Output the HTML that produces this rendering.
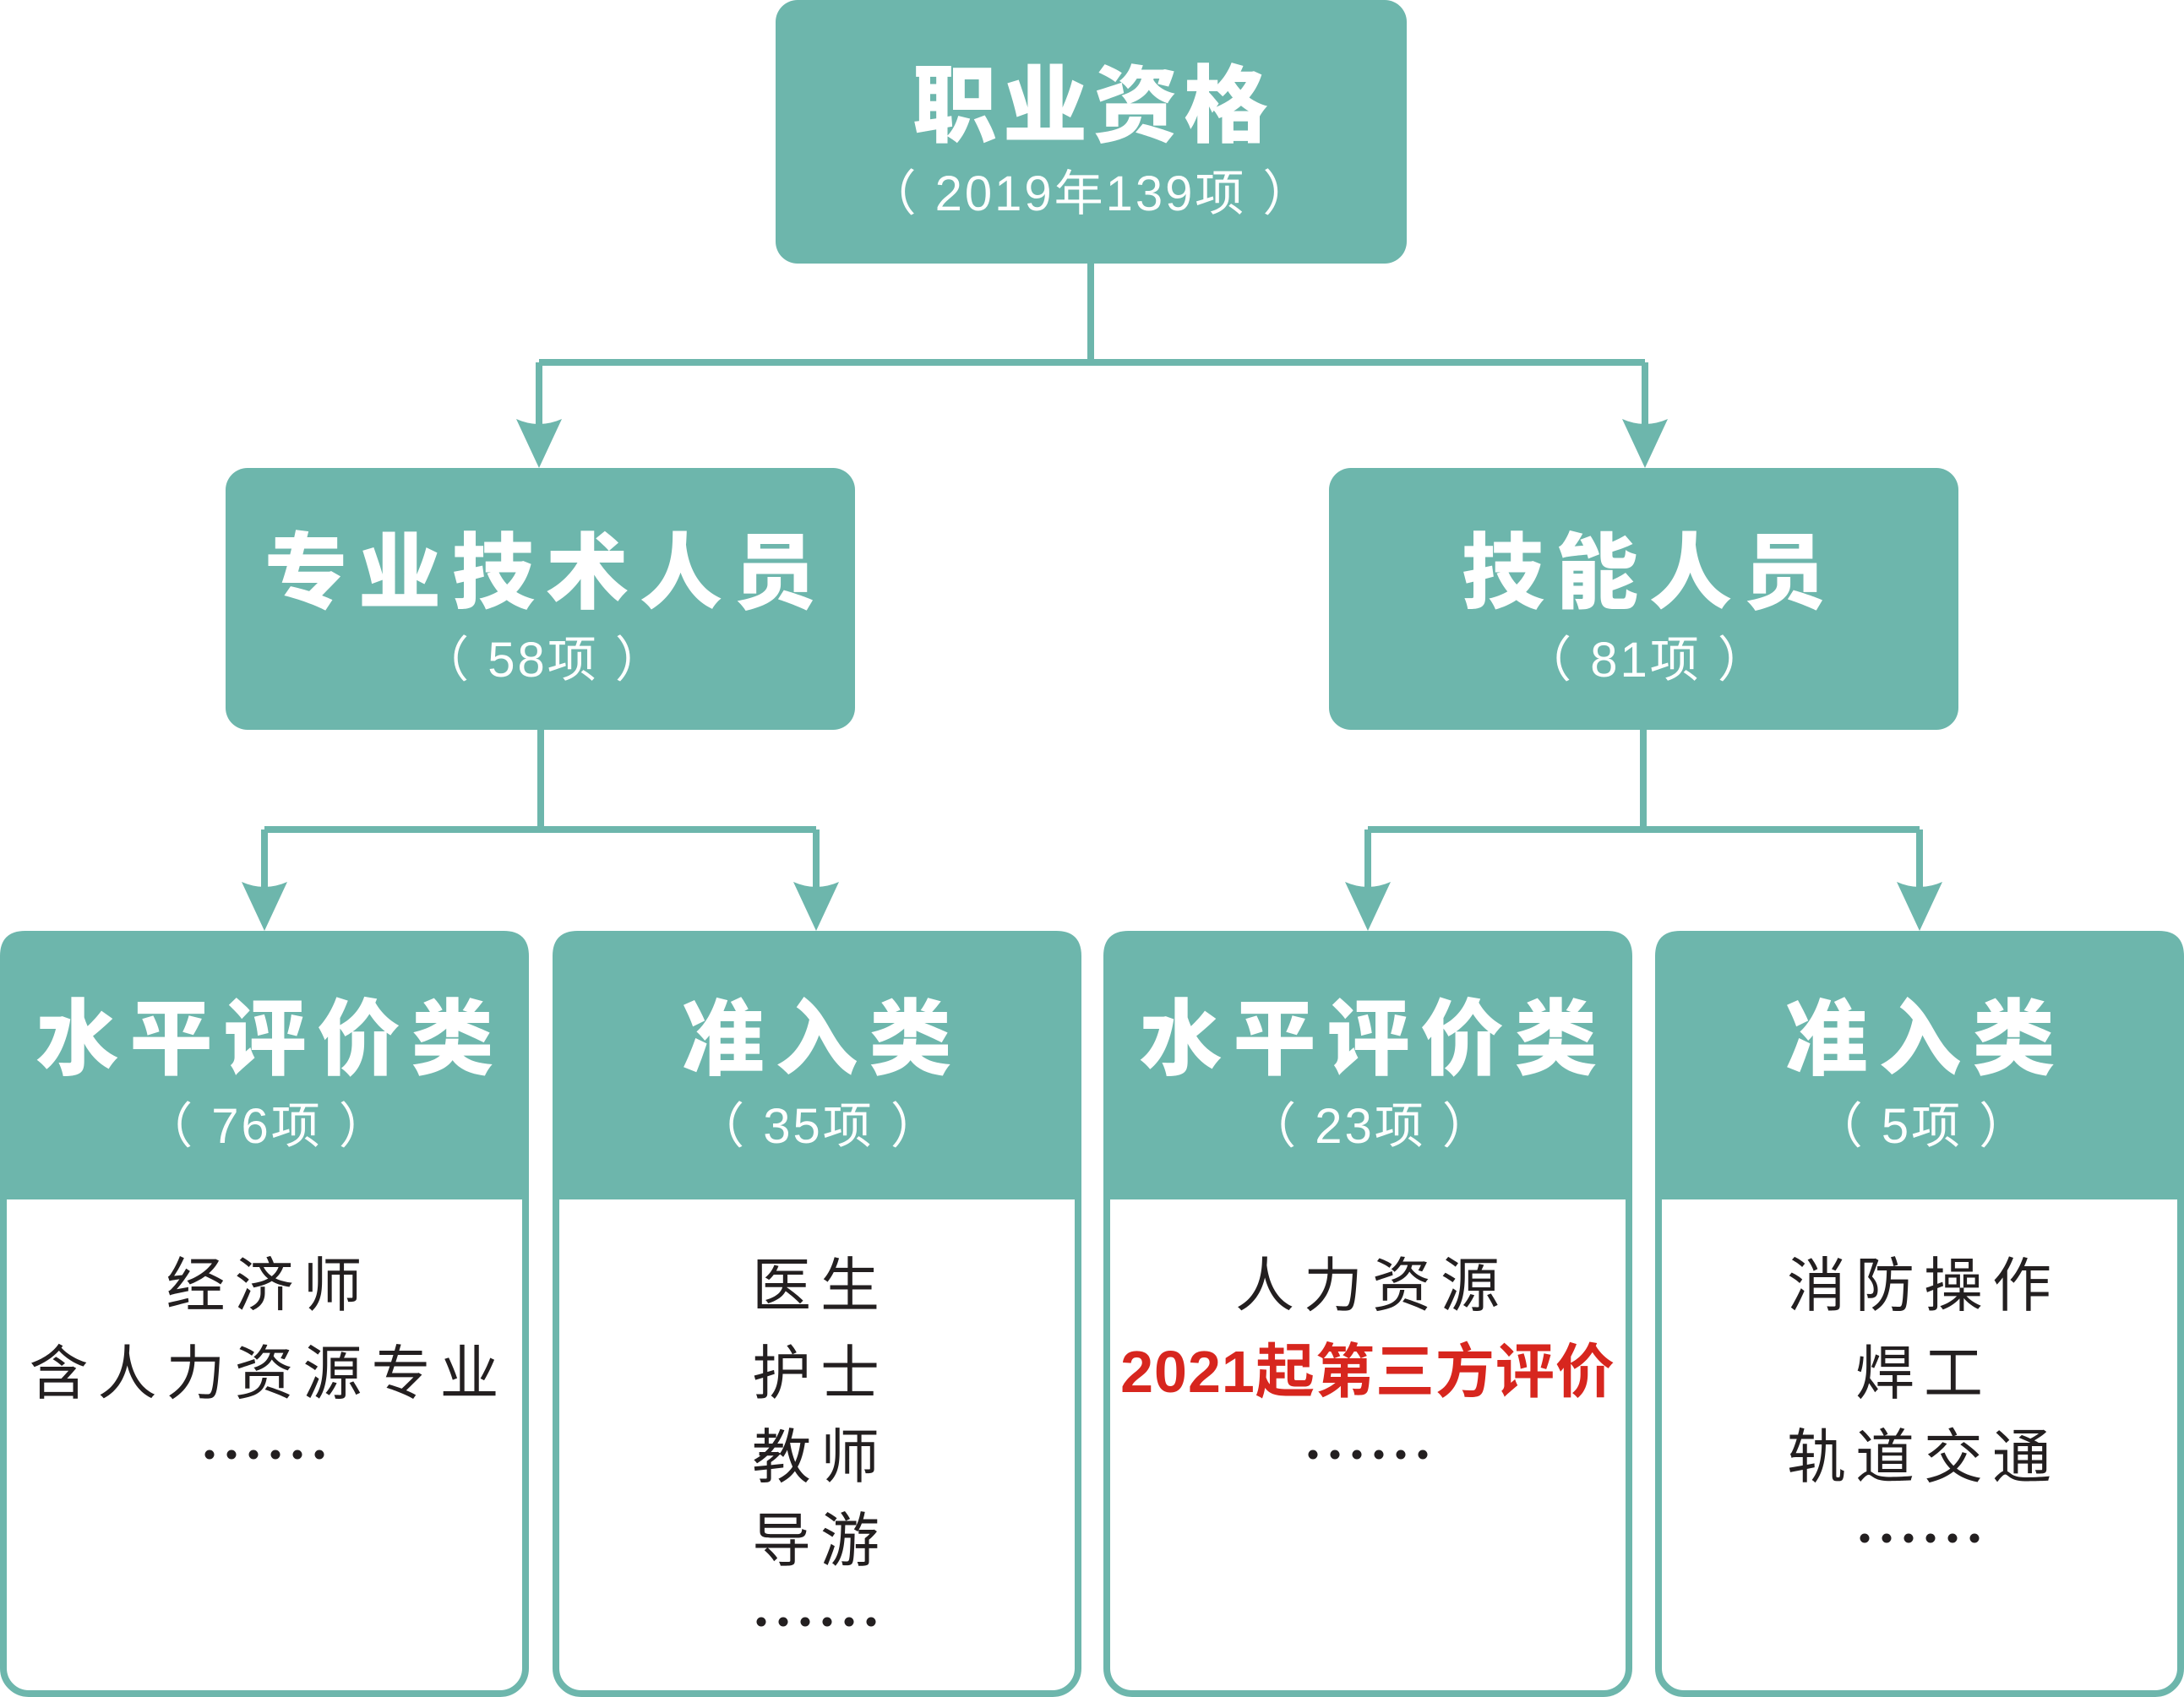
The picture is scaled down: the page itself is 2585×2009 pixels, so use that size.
<!DOCTYPE html>
<html><head><meta charset="utf-8"><style>
html,body{margin:0;padding:0;background:#fff;}
svg{display:block;}
.t{font-family:"Liberation Sans","Noto Sans CJK SC",sans-serif;font-weight:900;fill:#fff;text-anchor:middle;}
.s{font-family:"Liberation Sans","Noto Sans CJK SC",sans-serif;font-weight:400;fill:#fff;text-anchor:middle;font-size:58px;letter-spacing:3px;}
.b{font-family:"Liberation Sans","Noto Sans CJK SC",sans-serif;font-weight:400;fill:#231f20;text-anchor:middle;font-size:70px;letter-spacing:11px;}
.r{font-family:"Liberation Sans","Noto Sans CJK SC",sans-serif;font-weight:700;fill:#d7261e;text-anchor:middle;font-size:70px;letter-spacing:1px;}
</style></head><body>
<svg width="2585" height="2009" viewBox="0 0 2585 2009" xmlns="http://www.w3.org/2000/svg">
<defs>
<g id="arr"><path d="M0 0 L-27 -58 Q0 -46 27 -58 Z" fill="#6db6ac"/></g>
<g id="dots" fill="#231f20"><circle cx="-65" cy="0" r="5.5"/><circle cx="-39" cy="0" r="5.5"/><circle cx="-13" cy="0" r="5.5"/><circle cx="13" cy="0" r="5.5"/><circle cx="39" cy="0" r="5.5"/><circle cx="65" cy="0" r="5.5"/></g>
</defs>
<g stroke="#6db6ac" stroke-width="8" fill="none">
<path d="M1291 312 V429 M638 429 H1947 M638 429 V510 M1947 429 V510"/>
<path d="M640 864 V982 M313 982 H966 M313 982 V1058 M966 982 V1058"/>
<path d="M1945 864 V982 M1619 982 H2272 M1619 982 V1058 M2272 982 V1058"/>
</g>
<use href="#arr" x="638" y="554"/><use href="#arr" x="1947" y="554"/>
<use href="#arr" x="313" y="1102"/><use href="#arr" x="966" y="1102"/>
<use href="#arr" x="1619" y="1102"/><use href="#arr" x="2272" y="1102"/>

<rect x="918" y="0" width="747" height="312" rx="26" fill="#6db6ac"/>
<rect x="267" y="554" width="745" height="310" rx="26" fill="#6db6ac"/>
<rect x="1573" y="554" width="745" height="310" rx="26" fill="#6db6ac"/>

<g fill="#fff" stroke="#6db6ac" stroke-width="8">
<rect x="4" y="1106" width="618" height="899" rx="30"/>
<rect x="658" y="1106" width="618" height="899" rx="30"/>
<rect x="1310" y="1106" width="618" height="899" rx="30"/>
<rect x="1963" y="1106" width="618" height="899" rx="30"/>
</g>
<g fill="#6db6ac">
<path d="M0 1420 V1132 Q0 1102 30 1102 H596 Q626 1102 626 1132 V1420 Z"/>
<path d="M654 1420 V1132 Q654 1102 684 1102 H1250 Q1280 1102 1280 1132 V1420 Z"/>
<path d="M1306 1420 V1132 Q1306 1102 1336 1102 H1902 Q1932 1102 1932 1132 V1420 Z"/>
<path d="M1959 1420 V1132 Q1959 1102 1989 1102 H2555 Q2585 1102 2585 1132 V1420 Z"/>
</g>

<text class="t" x="1294" y="160" font-size="100" letter-spacing="7">职业资格</text>
<text class="s" x="1291" y="249">（ 2019年139项 ）</text>
<text class="t" x="646" y="712" font-size="98" letter-spacing="13">专业技术人员</text>
<text class="s" x="643" y="801">（ 58项 ）</text>
<text class="t" x="1952" y="712" font-size="98" letter-spacing="13">技能人员</text>
<text class="s" x="1948" y="801">（ 81项 ）</text>

<text class="t" x="320" y="1264" font-size="98" letter-spacing="13">水平评价类</text>
<text class="s" x="316" y="1353">（ 76项 ）</text>
<text class="t" x="973" y="1264" font-size="98" letter-spacing="13">准入类</text>
<text class="s" x="969" y="1353">（ 35项 ）</text>
<text class="t" x="1626" y="1264" font-size="98" letter-spacing="13">水平评价类</text>
<text class="s" x="1622" y="1353">（ 23项 ）</text>
<text class="t" x="2279" y="1264" font-size="98" letter-spacing="13">准入类</text>
<text class="s" x="2275" y="1353">（ 5项 ）</text>

<text class="b" x="318" y="1546">经济师</text>
<text class="b" x="318" y="1650">含人力资源专业</text>
<use href="#dots" x="313" y="1722"/>

<text class="b" x="971" y="1546">医生</text>
<text class="b" x="971" y="1650">护士</text>
<text class="b" x="971" y="1749">教师</text>
<text class="b" x="971" y="1848">导游</text>
<use href="#dots" x="966" y="1920"/>

<text class="b" x="1624" y="1546">人力资源</text>
<text class="r" x="1619" y="1648">2021起第三方评价</text>
<use href="#dots" x="1619" y="1722"/>

<text class="b" x="2277" y="1546">消防操作</text>
<text class="b" x="2277" y="1650">焊工</text>
<text class="b" x="2277" y="1749">轨道交通</text>
<use href="#dots" x="2272" y="1821"/>
</svg>
</body></html>
